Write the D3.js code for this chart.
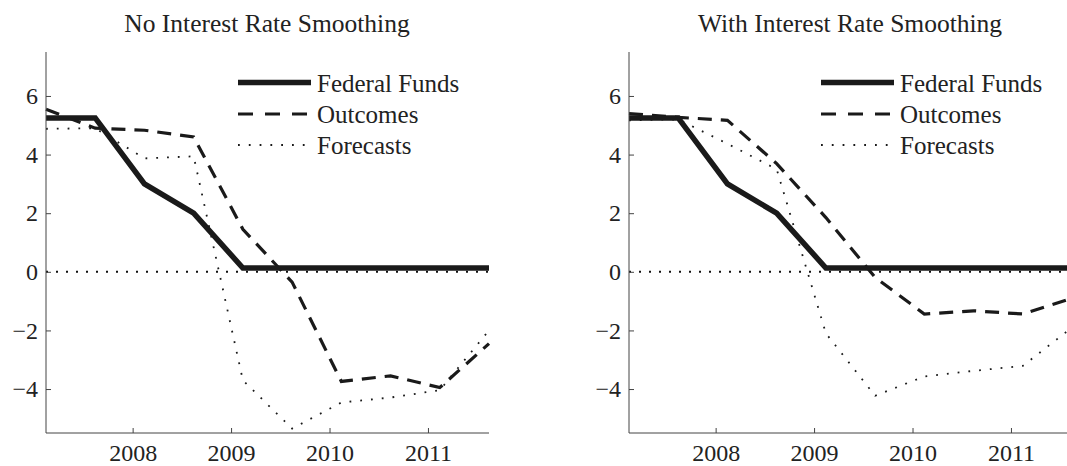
<!DOCTYPE html>
<html lang="en">
<head>
  <meta charset="utf-8">
  <title>Interest rate smoothing</title>
  <script src="https://d3js.org/d3.v7.min.js"></script>
  <style type="text/css">
    body { margin: 0; background: #fff; }
    svg text { font-family: "Liberation Serif", "Times New Roman", "DejaVu Serif", serif; fill: #222; }
    .axis path, .axis line { stroke: #444; stroke-width: 1; }
  </style>
</head>
<body>
<div id="chart"></div>
<script>

// half-year observations, 2007 to mid 2011
var dates = [2007.12, 2007.62, 2008.12, 2008.62, 2009.12, 2009.62, 2010.12, 2010.62, 2011.12, 2011.62];
var fedFunds = [5.25, 5.25, 3.0, 2.0, 0.13, 0.13, 0.13, 0.13, 0.13, 0.13];

// panel 1: no smoothing
var noSmoothOutcomes = [5.55, 4.9, 4.83, 4.6, 1.45, -0.35, -3.74, -3.55, -3.95, -2.45];
var noSmoothForecasts = [4.88, 4.9, 3.87, 3.94, -3.7, -5.35, -4.46, -4.29, -4.04, -2.0];

// panel 2: with smoothing
var smoothOutcomes = [5.4, 5.27, 5.17, 3.69, 1.85, -0.19, -1.44, -1.33, -1.44, -0.9];
var smoothForecasts = [5.17, 5.2, 4.37, 3.5, -2.1, -4.23, -3.57, -3.38, -3.21, -1.9];

var panelTitles = ["No Interest Rate Smoothing", "With Interest Rate Smoothing"];
var seriesNames = ["Federal Funds", "Outcomes", "Forecasts"];
var yTicks = [-4, -2, 0, 2, 4, 6];
var xTicks = [2008, 2009, 2010, 2011];

var width = 1067, height = 466;
var serif = '"Liberation Serif", "Times New Roman", serif';
var svg = d3.select("#chart").append("svg")
    .attr("width", width)
    .attr("height", height);

var styles = [
  { width: 5.5, dash: null },
  { width: 3.2, dash: "14,9" },
  { width: 1.8, dash: "1.8,9" }
];

function fixAxisText(a) {
  a.attr("font-family", null).attr("font-size", null);
  a.selectAll("text")
    .style("font-family", serif)
    .style("font-size", "24px")
    .style("fill", "#222");
}

function drawPanel(left, title, outcomes, forecasts) {
  var w = 443, top = 52, bottom = 433;
  var g = svg.append("g").attr("transform", "translate(" + left + ",0)");

  var x = d3.scaleLinear().domain([2007.12, 2011.62]).range([0, w]);
  var y = d3.scaleLinear().domain([-5.5, 7.5]).range([bottom, top]);

  g.append("text")
    .attr("x", 221)
    .attr("y", 32)
    .attr("text-anchor", "middle")
    .style("font-size", "25.5px")
    .text(title);

  // zero line
  g.append("line")
    .attr("x1", 0).attr("x2", w)
    .attr("y1", y(0)).attr("y2", y(0))
    .style("stroke", "#111")
    .style("stroke-width", 2)
    .style("stroke-dasharray", "2,8");

  var line = d3.line()
    .x(function(d, i) { return x(dates[i]); })
    .y(function(d) { return y(d); });

  var series = [fedFunds, outcomes, forecasts];
  // forecasts first so the heavy lines sit on top
  [2, 1, 0].forEach(function(k) {
    g.append("path")
      .attr("d", line(series[k]))
      .style("fill", "none")
      .style("stroke", "#1a1a1a")
      .style("stroke-width", styles[k].width)
      .style("stroke-dasharray", styles[k].dash);
  });

  g.append("g")
    .attr("class", "axis")
    .call(d3.axisLeft(y).tickValues(yTicks).tickSize(-5).tickPadding(8))
    .call(function(a) { a.select(".domain").attr("d", "M0," + top + "V" + bottom); })
    .call(fixAxisText);

  g.append("g")
    .attr("class", "axis")
    .attr("transform", "translate(0," + bottom + ")")
    .call(d3.axisBottom(x).tickValues(xTicks).tickFormat(d3.format("d")).tickSize(-5).tickPadding(11))
    .call(function(a) { a.select(".domain").attr("d", "M0,0H" + w); })
    .call(fixAxisText);

  // legend
  var rows = [82.5, 114, 145];
  seriesNames.forEach(function(name, k) {
    g.append("line")
      .attr("x1", 192).attr("x2", 265)
      .attr("y1", rows[k]).attr("y2", rows[k])
      .style("stroke", "#1a1a1a")
      .style("stroke-width", styles[k].width)
      .style("stroke-dasharray", k == 1 ? "15,12" : styles[k].dash);
    g.append("text")
      .attr("x", 271)
      .attr("y", rows[k] + 9)
      .style("font-size", "25px")
      .text(name);
  });
}

drawPanel(46, panelTitles[0], noSmoothOutcomes, noSmoothForecasts);
drawPanel(629, panelTitles[1], smoothOutcomes, smoothForecasts);

</script>
</body>
</html>
